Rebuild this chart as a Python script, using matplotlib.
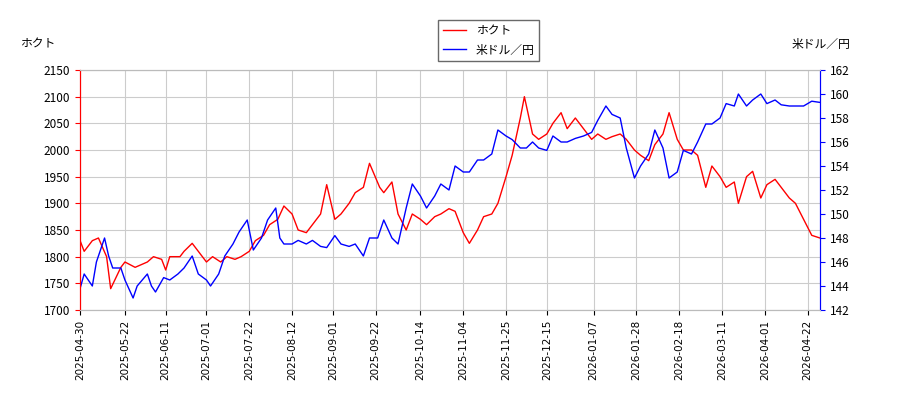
import matplotlib
matplotlib.use("Agg")
import matplotlib.pyplot as plt
import pandas as pd

plt.rcParams['font.family'] = ['Noto Sans CJK JP', 'DejaVu Sans']

red_dates = ["2025-04-30","2025-05-02","2025-05-06","2025-05-09","2025-05-13","2025-05-15","2025-05-20","2025-05-22","2025-05-27","2025-06-02","2025-06-05","2025-06-09","2025-06-11","2025-06-13","2025-06-18","2025-06-20","2025-06-24","2025-06-27","2025-07-01","2025-07-04","2025-07-08","2025-07-11","2025-07-15","2025-07-18","2025-07-22","2025-07-25","2025-07-29","2025-08-01","2025-08-05","2025-08-08","2025-08-12","2025-08-15","2025-08-19","2025-08-22","2025-08-26","2025-08-29","2025-09-02","2025-09-05","2025-09-09","2025-09-12","2025-09-16","2025-09-19","2025-09-24","2025-09-26","2025-09-30","2025-10-03","2025-10-07","2025-10-10","2025-10-14","2025-10-17","2025-10-21","2025-10-24","2025-10-28","2025-10-31","2025-11-04","2025-11-07","2025-11-11","2025-11-14","2025-11-18","2025-11-21","2025-11-25","2025-11-28","2025-12-02","2025-12-04","2025-12-08","2025-12-11","2025-12-15","2025-12-18","2025-12-22","2025-12-25","2025-12-29","2026-01-02","2026-01-06","2026-01-09","2026-01-13","2026-01-16","2026-01-20","2026-01-23","2026-01-27","2026-01-30","2026-02-03","2026-02-06","2026-02-10","2026-02-13","2026-02-17","2026-02-20","2026-02-24","2026-02-27","2026-03-03","2026-03-06","2026-03-10","2026-03-13","2026-03-17","2026-03-19","2026-03-23","2026-03-26","2026-03-30","2026-04-02","2026-04-06","2026-04-09","2026-04-13","2026-04-16","2026-04-20","2026-04-24","2026-04-28"]
hokuto = [1830,1810,1830,1835,1800,1740,1780,1790,1780,1790,1800,1795,1775,1800,1800,1810,1825,1810,1790,1800,1790,1800,1795,1800,1810,1830,1840,1860,1870,1895,1880,1850,1845,1860,1880,1935,1870,1880,1900,1920,1930,1975,1930,1920,1940,1880,1850,1880,1870,1860,1875,1880,1890,1885,1845,1825,1850,1875,1880,1900,1950,1990,2060,2100,2030,2020,2030,2050,2070,2040,2060,2040,2020,2030,2020,2025,2030,2020,2000,1990,1980,2010,2030,2070,2020,2000,2000,1990,1930,1970,1950,1930,1940,1900,1950,1960,1910,1935,1945,1930,1910,1900,1870,1840,1835]

blue_dates = ["2025-04-30","2025-05-02","2025-05-06","2025-05-08","2025-05-12","2025-05-14","2025-05-16","2025-05-20","2025-05-22","2025-05-26","2025-05-28","2025-06-02","2025-06-04","2025-06-06","2025-06-10","2025-06-13","2025-06-17","2025-06-20","2025-06-24","2025-06-27","2025-07-01","2025-07-03","2025-07-07","2025-07-10","2025-07-14","2025-07-17","2025-07-21","2025-07-24","2025-07-28","2025-07-31","2025-08-04","2025-08-06","2025-08-08","2025-08-12","2025-08-15","2025-08-19","2025-08-22","2025-08-26","2025-08-29","2025-09-02","2025-09-05","2025-09-09","2025-09-12","2025-09-16","2025-09-19","2025-09-23","2025-09-26","2025-09-30","2025-10-03","2025-10-07","2025-10-10","2025-10-14","2025-10-17","2025-10-21","2025-10-24","2025-10-28","2025-10-31","2025-11-04","2025-11-07","2025-11-11","2025-11-14","2025-11-18","2025-11-21","2025-11-25","2025-11-28","2025-12-02","2025-12-05","2025-12-08","2025-12-11","2025-12-15","2025-12-18","2025-12-22","2025-12-25","2025-12-29","2026-01-02","2026-01-06","2026-01-09","2026-01-13","2026-01-16","2026-01-20","2026-01-23","2026-01-27","2026-01-30","2026-02-03","2026-02-06","2026-02-10","2026-02-13","2026-02-17","2026-02-20","2026-02-24","2026-02-27","2026-03-03","2026-03-06","2026-03-10","2026-03-13","2026-03-17","2026-03-19","2026-03-23","2026-03-26","2026-03-30","2026-04-02","2026-04-06","2026-04-09","2026-04-13","2026-04-16","2026-04-20","2026-04-24","2026-04-28"]
usdjpy = [143.8,145,144,146,148,146.5,145.5,145.5,144.5,143,144,145,144,143.5,144.7,144.5,145,145.5,146.5,145,144.5,144,145,146.5,147.5,148.5,149.5,147,148,149.5,150.5,148,147.5,147.5,147.8,147.5,147.8,147.3,147.2,148.2,147.5,147.3,147.5,146.5,148,148,149.5,148,147.5,150.5,152.5,151.5,150.5,151.5,152.5,152,154,153.5,153.5,154.5,154.5,155,157,156.5,156.2,155.5,155.5,156,155.5,155.3,156.5,156,156,156.3,156.5,156.8,157.8,159,158.3,158,155.5,153,154,155,157,155.5,153,153.5,155.3,155,156,157.5,157.5,158,159.2,159,160,159,159.5,160,159.2,159.5,159.1,159,159,159,159.4,159.3]

tick_labels = ["2025-04-30","2025-05-22","2025-06-11","2025-07-01","2025-07-22","2025-08-12","2025-09-01","2025-09-22","2025-10-14","2025-11-04","2025-11-25","2025-12-15","2026-01-07","2026-01-28","2026-02-18","2026-03-11","2026-04-01","2026-04-22"]

fig = plt.figure(figsize=(9, 4), dpi=100)
ax = fig.add_axes([0.089, 0.225, 0.822, 0.6])
ax2 = ax.twinx()
l1, = ax.plot(pd.to_datetime(red_dates), hokuto, color='red', lw=1, label='ホクト')
l2, = ax2.plot(pd.to_datetime(blue_dates), usdjpy, color='blue', lw=1, label='米ドル／円')
ax.set_ylim(1700, 2150)
ax2.set_ylim(142, 162)
ax.set_yticks(range(1700, 2151, 50))
ax2.set_yticks(range(142, 163, 2))
ax.set_xlim(pd.Timestamp("2025-04-30"), pd.Timestamp("2026-04-28"))
ax.set_xticks(pd.to_datetime(tick_labels))
ax.set_xticklabels(tick_labels, rotation=90, fontsize=7.5, family='DejaVu Sans')
ax.tick_params(axis='y', colors='red', labelsize=8.5)
ax2.tick_params(axis='y', colors='blue', labelsize=8.5)
for lab in ax.get_yticklabels(): lab.set_color('black')
for lab in ax2.get_yticklabels(): lab.set_color('black')
for a in (ax, ax2):
    a.spines['left'].set_color('red')
    a.spines['right'].set_color('blue')
    a.spines['top'].set_color('#bbbbbb')
    a.spines['bottom'].set_color('#bbbbbb')
ax.grid(True, color='#cccccc')
fig.text(0.022, 0.88, 'ホクト', fontsize=8.5)
fig.text(0.945, 0.88, '米ドル／円', fontsize=8.5, ha='right')
fig.legend(handles=[l1, l2], loc='upper center', bbox_to_anchor=(0.543, 0.965), fontsize=8.5,
           fancybox=False, edgecolor='#444444')
fig.savefig('out.png')
